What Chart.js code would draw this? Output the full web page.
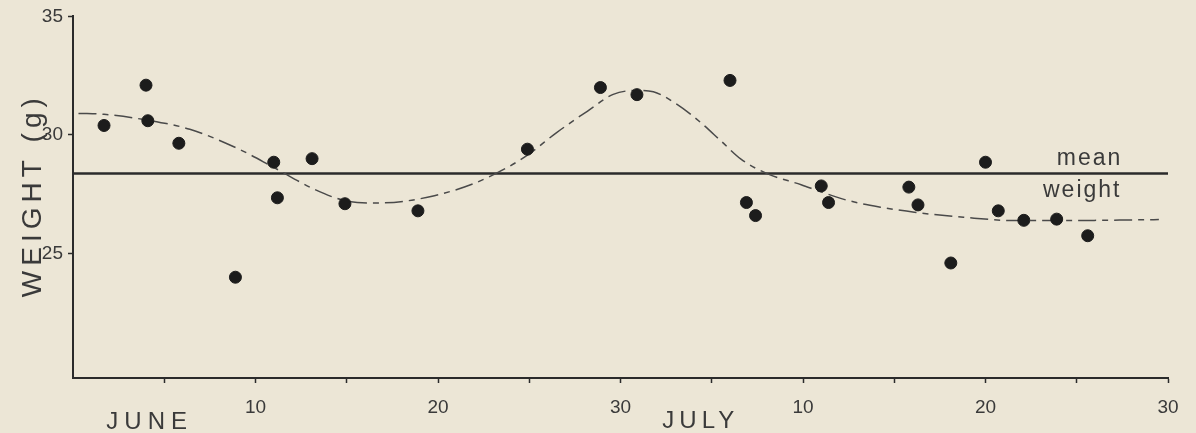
<!DOCTYPE html>
<html>
<head>
<meta charset="utf-8">
<script src="https://cdn.jsdelivr.net/npm/chart.js@4"></script>
<style>
    body { margin: 0; background: #ece6d6; }
    #wrap { width: 1196px; height: 433px; }
</style>
</head>
<body>
<div id="wrap"><canvas id="chart-weight" width="1196" height="433"></canvas></div>
<script>
// days counted from 31 May (1 = 1 June, 31 = 1 July)
var weightDays = [1.7, 4.0, 4.1, 5.8, 8.9, 11.0, 11.2, 13.1, 14.9, 18.9, 24.9, 28.9, 30.9,
    36.0, 36.9, 37.4, 41.0, 41.4, 45.8, 46.3, 48.1, 50.0, 50.7, 52.1, 53.9, 55.6];
var weightValues = [30.4, 32.1, 30.6, 29.65, 24.0, 28.85, 27.35, 29.0, 27.1, 26.8, 29.4, 32.0, 31.7,
    32.3, 27.15, 26.6, 27.85, 27.15, 27.8, 27.05, 24.6, 28.85, 26.8, 26.4, 26.45, 25.75];

// fitted curve
var fitDays = [0.3, 1.7, 4.1, 6.4, 9.1, 11.0, 13.2, 14.9, 16.6, 18.1, 19.8, 21.9, 23.8, 24.9, 26.5,
    28.2, 29.6, 30.9, 31.8, 33.1, 34.4, 35.5, 36.6, 38.0, 39.9, 41.0, 42.4, 44.3, 46.1, 48.8, 51.6, 54.3, 59.5];
var fitValues = [30.91, 30.87, 30.62, 30.24, 29.40, 28.63, 27.72, 27.23, 27.13, 27.20, 27.44, 27.93, 28.63, 29.15, 30.10,
    31.01, 31.71, 31.88, 31.82, 31.29, 30.52, 29.75, 28.98, 28.38, 27.90, 27.60, 27.25, 26.95, 26.74, 26.53, 26.39, 26.39, 26.43];

var meanWeight = 28.37;

var xTicks = [5, 10, 15, 20, 25, 30, 35, 40, 45, 50, 55, 60];
var xTickLabels = {10: "10", 20: "20", 30: "30", 40: "10", 50: "20", 60: "30"};
var yTicks = [25, 30, 35];
var monthNames = ["JUNE", "JULY"];

var ink = "#2b2b2b";
var labelFont = "'Liberation Sans', 'Open Sans', sans-serif";

// extra text: axis title, month names, mean weight label
var textPlugin = {
    id: "extraText",
    afterDraw: function (chart) {
        var ctx = chart.ctx;
        var area = chart.chartArea;
        var xs = chart.scales.x;
        var ys = chart.scales.y;
        ctx.save();
        ctx.fillStyle = "#3a3a3a";
        ctx.textAlign = "center";
        ctx.textBaseline = "alphabetic";

        // y title
        ctx.save();
        ctx.translate(area.left - 40, (area.top + area.bottom) / 2 - 2);
        ctx.rotate(-Math.PI / 2);
        ctx.font = "28px " + labelFont;
        ctx.letterSpacing = "5px";
        ctx.textBaseline = "middle";
        ctx.fillText("WEIGHT (g)", 0, 0);
        ctx.restore();

        // month names
        ctx.font = "24px " + labelFont;
        ctx.letterSpacing = "6px";
        ctx.fillText(monthNames[0], xs.getPixelForValue(4.2), area.bottom + 51);
        ctx.letterSpacing = "5px";
        ctx.fillText(monthNames[1], xs.getPixelForValue(34.4), area.bottom + 50);

        // mean weight label
        var my = ys.getPixelForValue(meanWeight);
        ctx.font = "23px " + labelFont;
        ctx.letterSpacing = "2px";
        ctx.fillText("mean", xs.getPixelForValue(55.7), my - 9);
        ctx.fillText("weight", xs.getPixelForValue(55.3), my + 23);
        ctx.restore();
    }
};

var ctx = document.getElementById("chart-weight").getContext("2d");
var myChart = new Chart(ctx, {
    type: "scatter",
    data: {
        datasets: [
            {
                label: "weight",
                data: weightDays.map(function (d, i) { return {x: d, y: weightValues[i]}; }),
                backgroundColor: "#1c1c1c",
                borderColor: "#1c1c1c",
                pointRadius: 6,
                order: 0
            },
            {
                label: "fit",
                type: "line",
                data: fitDays.map(function (d, i) { return {x: d, y: fitValues[i]}; }),
                borderColor: "#4a4a4a",
                borderWidth: 1.5,
                borderDash: [18, 6, 6, 6],
                cubicInterpolationMode: "monotone",
                pointRadius: 0,
                fill: false,
                order: 1
            },
            {
                label: "mean",
                type: "line",
                data: [{x: 0, y: meanWeight}, {x: 60, y: meanWeight}],
                borderColor: ink,
                borderWidth: 2.5,
                pointRadius: 0,
                fill: false,
                order: 2
            }
        ]
    },
    options: {
        responsive: false,
        animation: false,
        layout: {
            padding: {top: 15, right: 28, bottom: 0, left: 0}
        },
        plugins: {
            legend: {display: false},
            tooltip: {enabled: false}
        },
        scales: {
            x: {
                type: "linear",
                min: 0,
                max: 60,
                afterBuildTicks: function (scale) {
                    scale.ticks = xTicks.map(function (v) { return {value: v}; });
                },
                afterFit: function (scale) {
                    scale.height = 55;
                },
                ticks: {
                    autoSkip: false,
                    maxRotation: 0,
                    padding: 13,
                    color: "#3a3a3a",
                    font: {family: labelFont, size: 19},
                    callback: function (v) { return xTickLabels[v] || ""; }
                },
                grid: {
                    drawOnChartArea: false,
                    tickLength: 5,
                    tickWidth: 1.5,
                    tickColor: ink
                },
                border: {color: ink, width: 2}
            },
            y: {
                min: 19.75,
                max: 35,
                afterBuildTicks: function (scale) {
                    scale.ticks = yTicks.map(function (v) { return {value: v}; });
                },
                afterFit: function (scale) {
                    scale.width = 73;
                },
                ticks: {
                    padding: 5,
                    color: "#3a3a3a",
                    font: {family: labelFont, size: 19}
                },
                grid: {
                    drawOnChartArea: false,
                    tickLength: 5,
                    tickWidth: 1.5,
                    tickColor: ink
                },
                border: {color: ink, width: 2}
            }
        }
    },
    plugins: [textPlugin]
});
</script>
</body>
</html>
